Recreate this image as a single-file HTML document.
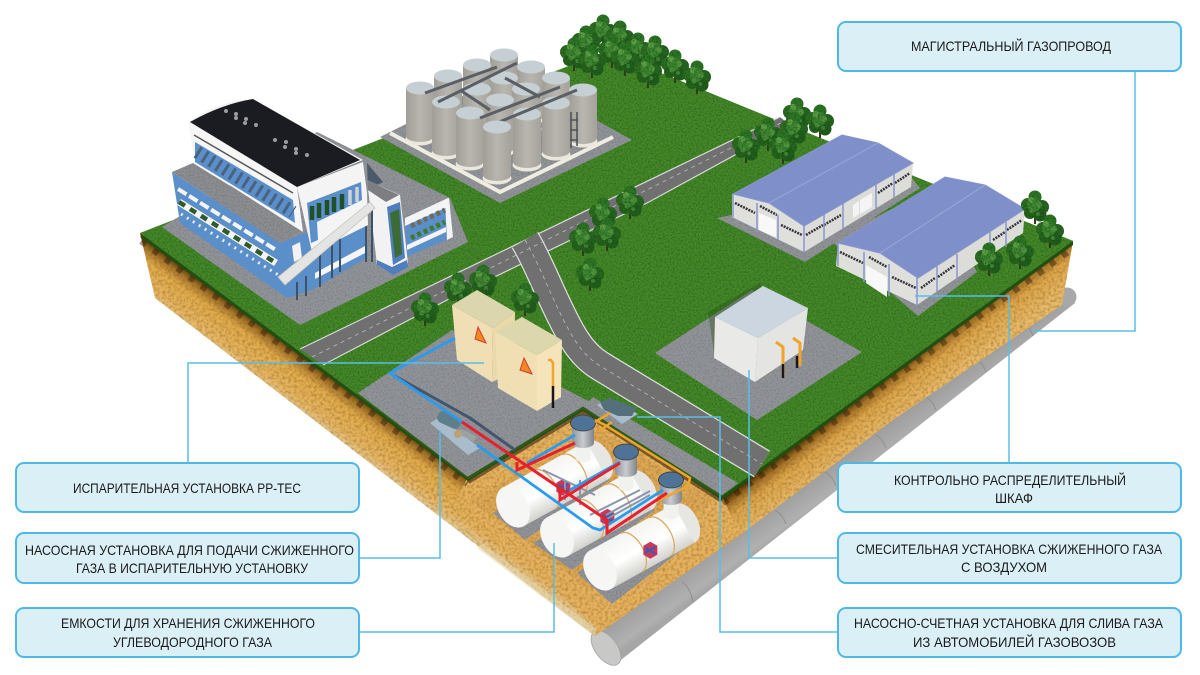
<!DOCTYPE html>
<html><head><meta charset="utf-8"><style>
html,body{margin:0;padding:0;background:#fff;width:1200px;height:675px;overflow:hidden}
svg{display:block}
text{font-family:"Liberation Sans",sans-serif;font-size:14px;fill:#1a1a1a;text-anchor:start}
.c{fill:none;stroke:#58bde8;stroke-width:1.5}
.b{fill:#dbeff6;stroke:#4fb8e6;stroke-width:2}
</style></head><body>
<svg width="1200" height="675" viewBox="0 0 1200 675" xmlns="http://www.w3.org/2000/svg">
<defs>
<filter id="n" x="0" y="0" width="100%" height="100%"><feTurbulence type="fractalNoise" baseFrequency=".6" numOctaves="2" seed="3" result="t"/><feColorMatrix in="t" type="matrix" values="0 0 0 0 0 0 0 0 0 0 0 0 0 0 0 0 0 0 1.1 -.42" result="a"/><feComposite in="a" in2="SourceGraphic" operator="in" result="d"/><feMerge><feMergeNode in="SourceGraphic"/><feMergeNode in="d"/></feMerge></filter>
<filter id="ng" x="0" y="0" width="100%" height="100%"><feTurbulence type="fractalNoise" baseFrequency=".6" numOctaves="2" seed="5" result="t"/><feColorMatrix in="t" type="matrix" values="0 0 0 0 0 0 0 0 0 0 0 0 0 0 .05 0 0 0 .7 -.28" result="a"/><feComposite in="a" in2="SourceGraphic" operator="in" result="d"/><feMerge><feMergeNode in="SourceGraphic"/><feMergeNode in="d"/></feMerge></filter>
<filter id="ns" x="0" y="0" width="100%" height="100%"><feTurbulence type="fractalNoise" baseFrequency=".35" numOctaves="2" seed="7" result="t"/><feColorMatrix in="t" type="matrix" values="0 0 0 0 .25 0 0 0 0 .12 0 0 0 0 0 0 0 0 1.3 -.5" result="a"/><feComposite in="a" in2="SourceGraphic" operator="in" result="d"/><feMerge><feMergeNode in="SourceGraphic"/><feMergeNode in="d"/></feMerge></filter>
<filter id="nt" x="-5%" y="-5%" width="110%" height="110%"><feTurbulence type="fractalNoise" baseFrequency=".55" numOctaves="2" seed="11" result="t"/><feColorMatrix in="t" type="matrix" values="0 0 0 0 0 0 0 0 0 .1 0 0 0 0 0 0 0 0 2 -.82" result="a"/><feComposite in="a" in2="SourceGraphic" operator="in" result="d"/><feMerge><feMergeNode in="SourceGraphic"/><feMergeNode in="d"/></feMerge></filter>
<linearGradient id="soilL" gradientUnits="userSpaceOnUse" x1="320" y1="368" x2="289" y2="410"><stop offset="0" stop-color="#4f3210"/><stop offset=".12" stop-color="#a0702c"/><stop offset=".32" stop-color="#e0aa4c"/><stop offset=".72" stop-color="#e6b562"/><stop offset="1" stop-color="#e4d0a6"/></linearGradient>
<linearGradient id="soilR" gradientUnits="userSpaceOnUse" x1="880" y1="381" x2="905" y2="414"><stop offset="0" stop-color="#4a2c0e"/><stop offset=".18" stop-color="#a5722c"/><stop offset=".42" stop-color="#dca54c"/><stop offset="1" stop-color="#e8ba6a"/></linearGradient>
<linearGradient id="silo" x1="0" x2="1" y1="0" y2="0"><stop offset="0" stop-color="#a09e96"/><stop offset=".5" stop-color="#b8b6ae"/><stop offset="1" stop-color="#a4a29a"/></linearGradient>
<linearGradient id="tk" x1="0" x2="0" y1="0" y2="1"><stop offset="0" stop-color="#f3f3f1"/><stop offset=".55" stop-color="#fff"/><stop offset="1" stop-color="#d2d2cd"/></linearGradient>
<linearGradient id="pipe" gradientUnits="userSpaceOnUse" x1="830" y1="460" x2="850" y2="488"><stop offset="0" stop-color="#9a9a9a"/><stop offset=".8" stop-color="#b0b0b0"/><stop offset="1" stop-color="#a6a6a6"/></linearGradient>
<linearGradient id="well" x1="0" x2="1" y1="0" y2="0"><stop offset="0" stop-color="#8f949b"/><stop offset=".5" stop-color="#c8ccd0"/><stop offset="1" stop-color="#7f848b"/></linearGradient>
<g id="tree"><rect x="-1" y="10" width="2" height="6" fill="#3a3324"/><circle cx="0" cy="-11" r="6.5" fill="#33732a"/><circle cx="-7" cy="-3" r="7" fill="#306c28"/><circle cx="7" cy="-1" r="7" fill="#2c6425"/><circle cx="-5" cy="5" r="6" fill="#2a5f22"/><circle cx="5" cy="7" r="6.5" fill="#275a20"/><circle cx="-1" cy="-3" r="7" fill="#408335"/><circle cx="-4" cy="-8" r="3" fill="#5fa146"/><circle cx="4" cy="-3" r="3" fill="#54953f"/><circle cx="-3" cy="3" r="2.5" fill="#4d8e3a"/><circle cx="3" cy="6" r="2" fill="#45853a"/></g>
<g id="s"><ellipse cx="0" cy="51" rx="14.5" ry="6.5" fill="#ebe7dc"/><path d="M-14 0V48a14 6 0 0 0 28 0V0z" fill="url(#silo)"/><ellipse cx="0" cy="0" rx="14" ry="6.5" fill="#c6d0d4"/></g>
<g id="k"><ellipse cx="96" cy="0" rx="14" ry="22" fill="#e6e6e2"/><rect x="0" y="-22" width="96" height="44" fill="url(#tk)"/><ellipse cx="0" cy="0" rx="15" ry="22" fill="#f6f6f4"/><path d="M68-22a12 22 0 0 1 0 44M36-22a12 22 0 0 1 0 44" fill="none" stroke="#d9a95a" stroke-width="1.2"/><g transform="rotate(29 52 8)"><path d="M46 2l7-4 7 4v9l-7 4-7-4z" fill="#c6395c"/><path d="M48 4l10 6M48 9l10-6" stroke="#3a5cb0" stroke-width="2"/></g></g>
<g id="w"><rect x="-7.5" y="18" width="15" height="17" fill="#f1f1ee"/><ellipse cx="0" cy="35" rx="7.5" ry="4" fill="#f1f1ee"/><path d="M-11 0V20a11 5 0 0 0 22 0V0z" fill="url(#well)"/><ellipse cx="0" cy="0" rx="12.5" ry="8" fill="#4f7297" stroke="#3a3a32" stroke-width=".8"/></g>
</defs>

<!-- pipe -->
<path d="M595 633L1060 290 1075 303 617 663z" fill="url(#pipe)"/>
<circle cx="1067" cy="297" r="9.5" fill="#a8a8a8"/>
<ellipse cx="606" cy="648" rx="11" ry="20" transform="rotate(-37 606 648)" fill="#c8c8c6" stroke="#a2a2a2" stroke-width=".8"/>
<path d="M1022 322q8 5 11 14M975 358q8 5 11 14M925 396q8 5 11 14M875 434q8 5 11 14M825 472q8 5 11 14M775 510q8 5 11 14M682 582q8 5 11 20" stroke="#8e8e8e" stroke-width="1" fill="none"/>

<!-- soil -->
<path d="M140 233L606 580 595 636 155 298z" fill="url(#soilL)" filter="url(#ns)"/>
<path d="M1073 241L606 580 595 636 740 535 893 420 1062 305z" fill="url(#soilR)" filter="url(#ns)"/>
<path d="M468 477L583 407 722 496 740 535 600 630 456 500z" fill="#e6b25e" filter="url(#ns)"/>
<path d="M480 546L592 630" stroke="#ead7ab" stroke-width="7" opacity=".55" fill="none"/>
<path d="M470 500L590 590 716 500 600 430z" fill="#a86f25" opacity=".12"/>
<path d="M142 240L468 483M722 502L1071 248" stroke="#2e1a06" stroke-width="9" stroke-dasharray="6 9" opacity=".45" fill="none"/>
<path d="M468 481L583 411 722 500" stroke="#3a2208" stroke-width="6" opacity=".6" fill="none"/>

<!-- grass -->
<path d="M140 237L468 481 583 411 722 500 1073 245 1073 241 607 51z" fill="#234e12"/>
<path d="M140 233L607 51 1073 241 722 496 583 407 468 477z" fill="#45892a" filter="url(#n)"/>

<!-- road -->
<path d="M300 349L780 117 790 125 700 175 647 203 447 300 323 365z" fill="#707070"/>
<path d="M300 349L780 117M323 365L447 300 647 203 790 125" fill="none" stroke="#d8d8d8" stroke-width="1.2"/>
<path d="M525 240C540 265 552 300 570 332C580 350 590 360 602 367L762 464" fill="none" stroke="#dcdcdc" stroke-width="31"/>
<path d="M525 240C540 265 552 300 570 332C580 350 590 360 602 367L762 464" fill="none" stroke="#707070" stroke-width="28.5"/>
<path d="M525 240C540 265 552 300 570 332C580 350 590 360 602 367L762 464M312 357L785 121" fill="none" stroke="#bcbcbc" stroke-width=".8" stroke-dasharray="4 4"/>

<!-- tree clusters back -->
<g filter="url(#nt)"><use href="#tree" x="603" y="32"/><use href="#tree" x="620" y="38"/><use href="#tree" x="586" y="43"/><use href="#tree" x="638" y="50"/><use href="#tree" x="655" y="53"/><use href="#tree" x="574" y="55"/><use href="#tree" x="612" y="52"/><use href="#tree" x="592" y="62"/><use href="#tree" x="625" y="60"/><use href="#tree" x="648" y="72"/><use href="#tree" x="675" y="67"/><use href="#tree" x="697" y="78"/></g>
<g filter="url(#nt)"><use href="#tree" x="797" y="115"/><use href="#tree" x="820" y="122"/><use href="#tree" x="794" y="130"/><use href="#tree" x="768" y="135"/><use href="#tree" x="783" y="148"/><use href="#tree" x="746" y="147"/></g>
<g filter="url(#nt)"><use href="#tree" x="630" y="203"/><use href="#tree" x="603" y="215"/><use href="#tree" x="607" y="235"/><use href="#tree" x="583" y="240"/><use href="#tree" x="590" y="275"/></g>

<!-- tank farm -->
<path d="M380 137L510 72 632 140 500 203z" fill="#929498" filter="url(#ng)"/>
<path d="M390 133L500 192 613 137" fill="none" stroke="#efece0" stroke-width="4"/>
<use href="#s" x="504" y="55"/><use href="#s" x="477" y="65"/><use href="#s" x="448" y="76"/><use href="#s" x="531" y="67"/><use href="#s" x="556" y="78"/><use href="#s" x="504" y="78"/><use href="#s" x="477" y="89"/><use href="#s" x="526" y="89"/><use href="#s" x="500" y="100"/><use href="#s" x="420" y="88"/><use href="#s" x="583" y="90"/><use href="#s" x="446" y="102"/><use href="#s" x="556" y="103"/><use href="#s" x="470" y="113"/><use href="#s" x="527" y="114"/>
<path d="M425 93L497 67M438 102L517 63M480 118L560 87M487 127L577 90M460 90L490 110M505 78L540 97" fill="none" stroke="#5a5f66" stroke-width="3"/>
<path d="M571 112V148M577 112V146M570 120H578M570 130H578M570 140H578" fill="none" stroke="#4f545b" stroke-width="1.6"/>
<use href="#s" x="497" y="127"/>

<!-- main building slab -->
<path d="M162 227L317 132 450 198 468 242 300 325z" fill="#929498" filter="url(#ng)"/>
<path d="M367 163L383 182 368 190z" fill="#4b5a6b"/>
<!-- right wing -->
<path d="M405 218L448 198 453 237 407 257z" fill="#5b8fc9"/>
<path d="M405 218L448 198 450 206 405 226z" fill="#f4f4f4"/>
<path d="M407 245L446 227 446 232 407 250z" fill="#f4f4f4"/>
<path d="M445 200L449 198 453 237 447 240z" fill="#f4f4f4"/>
<path d="M411 226L445 210" stroke="#6f6a5c" stroke-width="5" stroke-dasharray="4 3"/>
<path d="M411 238L445 222" stroke="#3c7a30" stroke-width="5" stroke-dasharray="4 3"/>
<!-- tower -->
<path d="M367 180L400 195 408 263 393 275 377 265z" fill="#f2f2f2"/>
<path d="M387 207L400 202 405 258 393 265z" fill="#4e7ebb"/>
<path d="M390 213L399 209 402 254 395 258z" fill="#3d6b35"/>
<path d="M367 180L399 195 386 202 368 190z" fill="#7c7e82"/>
<path d="M377 260L392 267 407 260 408 267 393 275 377 265z" fill="#4e7ebb"/>
<!-- lower wall under conveyor -->
<path d="M305 233L365 218 368 257 310 291z" fill="#5b8fc9"/>
<path d="M315 273L367 245 367 252 315 279z" fill="#f5f5f5"/>
<path d="M320 287V250M332 278V242M340 272V236M366 225V262M372 205V262" stroke="#3c5266" stroke-width="2"/>
<!-- lower blue wing -->
<path d="M172 172L280 243 305 233 312 290 287 298 180 223z" fill="#5b8fc9"/>
<path d="M172 172L193 163 302 230 280 243z" fill="#8d8f91" filter="url(#ng)"/>
<path d="M178 189L276 250" stroke="#f4f4f4" stroke-width="4" stroke-dasharray="10 3"/>
<path d="M179 202L276 263" stroke="#f4f4f4" stroke-width="7"/>
<path d="M179 202L276 263" stroke="#2f5a2a" stroke-width="4.5" stroke-dasharray="7 6"/>
<path d="M181 214L280 276" stroke="#e6edf5" stroke-width="3" stroke-dasharray="2 5"/>
<path d="M292 246L300 242 302 258 294 262z" fill="#f2f2f2"/>
<!-- upper block -->
<path d="M188 122L297 187 303 232 195 163z" fill="#f6f6f6"/>
<path d="M195 142L293 200 295 223 195 162z" fill="#5b8fc9"/>
<path d="M194 135L293 193" stroke="#58595b" stroke-width="1.5"/>
<path d="M197 152L293 212" stroke="#47637f" stroke-width="13" stroke-dasharray="3 5"/>
<path d="M297 187L363 162 367 193 368 225 318 250 312 252z" fill="#f4f4f4"/>
<path d="M307 203L361 182 362 200 317 222 318 240 311 243z" fill="#5b8fc9"/>
<path d="M312 206V220M319 203V218M327 200V215M334 197V212M342 194V209" stroke="#20502a" stroke-width="4.5"/>
<path d="M350 190V205M357 187V202" stroke="#cfd3d6" stroke-width="3.5"/>
<path d="M188 122Q222 100 253 99L363 160 297 187z" fill="#f2f2f2"/>
<path d="M190 122Q222 104 253 99L360 160 297 187z" fill="#1b1b22"/>
<g fill="#9a9ea2"><circle cx="226" cy="111" r="2"/><circle cx="236" cy="114" r="2"/><circle cx="236" cy="118" r="2"/><circle cx="246" cy="119" r="2"/><circle cx="245" cy="123" r="2"/><circle cx="256" cy="125" r="2"/><circle cx="275" cy="140" r="2"/><circle cx="286" cy="142" r="2"/><circle cx="285" cy="147" r="2"/><circle cx="296" cy="149" r="2"/><circle cx="296" cy="153" r="2"/><circle cx="307" cy="155" r="2"/></g>
<!-- conveyor -->
<path d="M278 277L370 202 375 208 285 285z" fill="#e4e4e2" stroke="#c4c4c0" stroke-width=".8"/>
<path d="M297 282V300M306 276V296" stroke="#3d4a5a" stroke-width="1.8"/>

<!-- left trees -->
<g filter="url(#nt)"><use href="#tree" x="425" y="310"/><use href="#tree" x="458" y="290"/><use href="#tree" x="483" y="282"/><use href="#tree" x="525" y="300"/></g>

<!-- hangars -->
<path d="M717 218L805 262 920 188 910 176 830 195z" fill="#929498" filter="url(#ng)"/>
<path d="M830 240L918 316 977 272 930 190z" fill="#929498" filter="url(#ng)"/>
<path d="M732 194L769 203 804 226 804 252 732 217z" fill="#dfdfdc"/>
<path d="M804 226L913 163 911 187 804 252z" fill="#dcdcd9"/>
<path d="M733 194L842 135 878 143 913 163 804 226 769 203z" fill="#7f8fc9" stroke="#8795cd"/>
<path d="M769 203L878 143" stroke="#96a4d8" stroke-width="1.2"/>
<path d="M759 213L776 220V237L759 230z" fill="#f8f8f8"/>
<path d="M735 203L755 213M760 206L777 215M781 225L802 235M806 235L823 225M824 225L841 215M878 193L893 183M895 183L910 173" stroke="#33353c" stroke-width="2.5" stroke-dasharray="2 1"/>
<path d="M757 203V232M778 215V240M804 226V252M824 214V240M843 203V229M876 184V210M894 173V198M733 194V217" stroke="#8796cc" stroke-width="1.5"/>
<path d="M853 205V218L859 214V201zM860 200V214L872 207V193z" fill="#f4f4f4"/>
<path d="M838 243L880 253 918 278 917 305 836 266z" fill="#dfdfdc"/>
<path d="M918 278L1025 209 1023 233 917 305z" fill="#dcdcd9"/>
<path d="M838 243L945 177 985 185 1025 209 918 278 880 253z" fill="#7f8fc9" stroke="#8795cd"/>
<path d="M880 253L985 185" stroke="#96a4d8" stroke-width="1.2"/>
<path d="M866 265L887 277V297L866 283z" fill="#f8f8f8"/>
<path d="M840 252L863 263M869 257L887 267M892 277L916 288M921 288L935 278M938 277L955 265M993 240L1005 232M1007 230L1022 220" stroke="#33353c" stroke-width="2.5" stroke-dasharray="2 1"/>
<path d="M864 252V282M889 264V296M917 278V305M937 266V292M957 254V280M990 232V258M1006 222V247M838 243V266" stroke="#8796cc" stroke-width="1.5"/>
<g filter="url(#nt)"><use href="#tree" x="1035" y="208"/><use href="#tree" x="1050" y="232"/><use href="#tree" x="1020" y="253"/><use href="#tree" x="989" y="260"/></g>

<!-- small cabinet -->
<path d="M655 353L752 290 862 352 757 420z" fill="#929498" filter="url(#ng)"/>
<path d="M708 312L760 283 772 330 715 360z" fill="#1f4a10" opacity=".35"/>
<path d="M715 317L758 338 755 382 714 358z" fill="#e9e9e7"/>
<path d="M758 338L808 308 803 350 755 382z" fill="#e4e4e2"/>
<path d="M715 317L763 286 808 308 758 338z" fill="#cbd6e0"/>
<path d="M776 342L783 347V376M793 338L800 343V366" fill="none" stroke="#efa52b" stroke-width="3"/>
<path d="M783 364V378M797 356V368" stroke="#18181c" stroke-width="2.5"/>

<!-- gravel near pit -->
<path d="M358 393L452 330 592 403 583 407 468 477z" fill="#929498" filter="url(#ng)"/>
<path d="M583 407L593 397 738 483 722 495z" fill="#929498" filter="url(#ng)"/>
<path d="M468 478L583 408 722 497" fill="none" stroke="#2f5a18" stroke-width="2.5"/>
<path d="M358 395L468 478" fill="none" stroke="#2f5a18" stroke-width="1.5"/>
<!-- electric boxes -->
<path d="M452 305L493 328 492 382 457 360z" fill="#f0dfb4"/>
<path d="M493 328L515 312 514 372 492 382z" fill="#ecd9aa"/>
<path d="M452 305L477 290 515 312 493 328z" fill="#dcd6ae"/>
<path d="M495 332L537 355 537 411 498 388z" fill="#f1dfb4"/>
<path d="M537 355L562 340 561 397 537 411z" fill="#f5e3ba"/>
<path d="M495 332L522 317 562 340 537 355z" fill="#ddd7ad"/>
<path d="M478 327L486 343 475 339z" fill="#ef8a22" stroke="#d83a2e"/>
<path d="M524 358L532 374 520 370z" fill="#ef8a22" stroke="#d83a2e"/>
<path d="M548 360H551L553 363V388" fill="none" stroke="#efa52b" stroke-width="2.5"/>
<path d="M553 386V408" stroke="#18181c" stroke-width="2.5"/>
<!-- blue outgoing pipe shadow and pump -->
<path d="M393 375L470 418M470 418L515 450" stroke="#43566e" stroke-width="3" fill="none"/>
<path d="M430 423L440 417 480 448 468 455z" fill="#a8bccb"/>
<rect x="437" y="414" width="24" height="12" rx="5" fill="#5f7e8c" transform="rotate(25 449 420)"/>
<rect x="458" y="432" width="18" height="6" fill="#9ba2a6" transform="rotate(25 467 435)"/>
<circle cx="458" cy="434" r="4" fill="#b9a276"/>
<!-- mixer -->
<path d="M597 405L610 398 638 414 622 424z" fill="#a8bccb"/>
<path d="M600 402L610 398 636 408 632 416 618 416 604 410z" fill="#55707c"/>
<!-- tanks -->
<path d="M493 513L525 540 610 480 585 460z" fill="#929498" filter="url(#ng)"/>
<path d="M533 543L572 570 655 510 620 490z" fill="#929498" filter="url(#ng)"/>
<path d="M577 573L612 604 698 537 672 505z" fill="#929498" filter="url(#ng)"/>
<use href="#k" transform="translate(513 507) rotate(-29)"/>
<use href="#w" x="583" y="423"/>
<use href="#k" transform="translate(557 537) rotate(-29)"/>
<use href="#w" x="626" y="452"/>
<use href="#k" transform="translate(600 570) rotate(-29)"/>
<use href="#w" x="671" y="480"/>
<path d="M543 470L595 495M565 480V500M580 505V480M590 515L640 490M605 520L650 495M606 515L650 491" stroke="#8b95ae" stroke-width="2" fill="none"/>
<!-- orange -->
<path d="M595 422L610 413M598 432L612 422M595 420L605 425 690 478 688 486 660 500" fill="none" stroke="#efa52b" stroke-width="2.5"/>
<!-- blue/red -->
<path d="M455 338L390 373 462 422M477 445L593 528 600 530 663 490M527 463L575 435M570 490L620 462" fill="none" stroke="#2a9bef" stroke-width="2.8"/>
<path d="M462 422L607 520V533L667 493M517 462V470L575 443M560 490V500L620 463" fill="none" stroke="#e8202e" stroke-width="3"/>

<!-- callouts -->
<path class="c" d="M1135 71V331H1033"/>
<path class="c" d="M188 463V363H484"/>
<path class="c" d="M360 558H440V430"/>
<path class="c" d="M360 632H554V543"/>
<path class="c" d="M1009 463V296H915"/>
<path class="c" d="M838 558H749V370"/>
<path class="c" d="M838 632H720V417H637"/>
<rect class="b" x="838" y="22" width="343" height="49" rx="8"/>
<rect class="b" x="838" y="463" width="343" height="49" rx="8"/>
<rect class="b" x="838" y="533" width="343" height="50" rx="8"/>
<rect class="b" x="838" y="608" width="343" height="49" rx="8"/>
<rect class="b" x="16" y="463" width="343" height="49" rx="8"/>
<rect class="b" x="16" y="533" width="343" height="50" rx="8"/>
<rect class="b" x="16" y="608" width="343" height="49" rx="8"/>
<text x="73" y="493" textLength="228" lengthAdjust="spacingAndGlyphs">ИСПАРИТЕЛЬНАЯ УСТАНОВКА РР-ТЕС</text>
<text x="25" y="555" textLength="329" lengthAdjust="spacingAndGlyphs">НАСОСНАЯ УСТАНОВКА ДЛЯ ПОДАЧИ СЖИЖЕННОГО</text>
<text x="76" y="573" textLength="232" lengthAdjust="spacingAndGlyphs">ГАЗА В ИСПАРИТЕЛЬНУЮ УСТАНОВКУ</text>
<text x="61" y="628" textLength="254" lengthAdjust="spacingAndGlyphs">ЕМКОСТИ ДЛЯ ХРАНЕНИЯ СЖИЖЕННОГО</text>
<text x="113" y="647" textLength="159" lengthAdjust="spacingAndGlyphs">УГЛЕВОДОРОДНОГО ГАЗА</text>
<text x="911" y="51" textLength="200" lengthAdjust="spacingAndGlyphs">МАГИСТРАЛЬНЫЙ ГАЗОПРОВОД</text>
<text x="894" y="485" textLength="232" lengthAdjust="spacingAndGlyphs">КОНТРОЛЬНО РАСПРЕДЕЛИТЕЛЬНЫЙ</text>
<text x="995" y="503" textLength="38" lengthAdjust="spacingAndGlyphs">ШКАФ</text>
<text x="856" y="554" textLength="306" lengthAdjust="spacingAndGlyphs">СМЕСИТЕЛЬНАЯ УСТАНОВКА СЖИЖЕННОГО ГАЗА</text>
<text x="961" y="572" textLength="86" lengthAdjust="spacingAndGlyphs">С ВОЗДУХОМ</text>
<text x="854" y="628" textLength="309" lengthAdjust="spacingAndGlyphs">НАСОСНО-СЧЕТНАЯ УСТАНОВКА ДЛЯ СЛИВА ГАЗА</text>
<text x="913" y="647" textLength="203" lengthAdjust="spacingAndGlyphs">ИЗ АВТОМОБИЛЕЙ ГАЗОВОЗОВ</text>
</svg>
</body></html>
